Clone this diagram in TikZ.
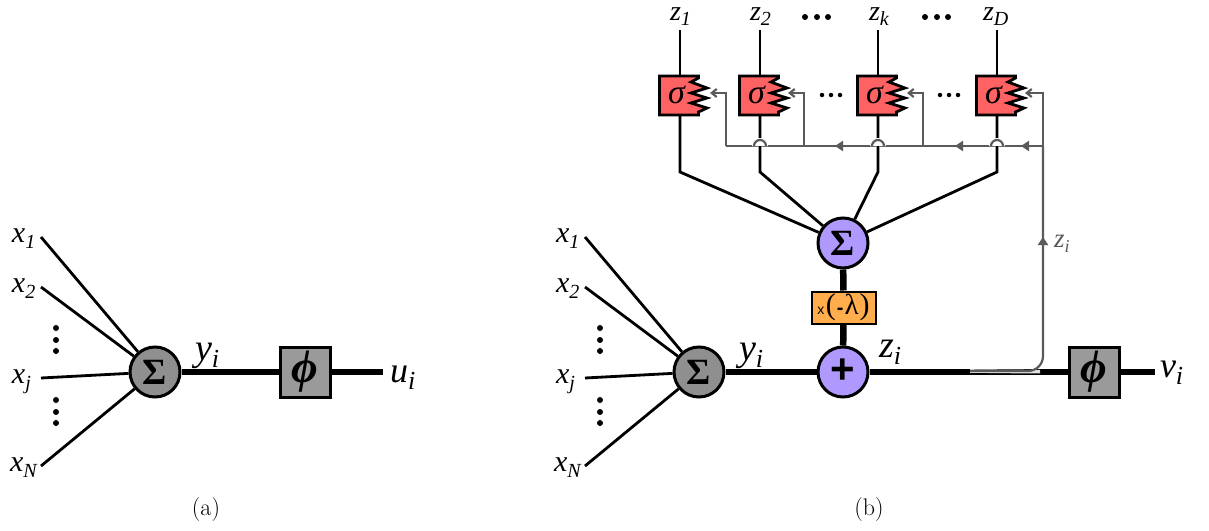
\documentclass[tikz,border=0pt]{standalone}
\usepackage{fontspec}
\setmainfont{Liberation Serif}
\newfontfamily\cmfont{Latin Modern Roman}
\newfontfamily\sansf{Liberation Sans}
\usetikzlibrary{arrows.meta}
\definecolor{fbgray}{HTML}{5A5A5A}
\definecolor{sumgray}{HTML}{8F8F8F}
\definecolor{sumpurple}{HTML}{AF99FF}
\definecolor{sigred}{HTML}{FF6262}
\definecolor{lamorange}{HTML}{FFAD4D}
\newcommand\lab[4]{\fontsize{#1}{#1}\selectfont\itshape #3\raisebox{-0.2em}{\fontsize{#2}{#2}\selectfont #4}}
\newcommand\sigbox[2]{%
  \path[fill=sigred,draw=black,line width=2.8pt,miter limit=10]
    (#2-20.5,76) -- (#2+18.5,76) -- (#2+18.5,78) -- (#2+11,82) -- (#2+27,88) -- (#2+11,93) -- (#2+27,98) -- (#2+11,103) -- (#2+27,108) -- (#2+18.5,112) -- (#2+18.5,115) -- (#2-20.5,115) -- cycle;
  \node[sigtext] (#1) at (#2-3.5,95) {\fontsize{34}{34}\selectfont\itshape σ};
}
\newcommand\hump[1]{%
  \fill[white] (#1+8,146) arc (0:180:8pt) -- cycle;
  \draw[fbline] (#1+6,146) arc (0:180:6pt);
}
\tikzset{
  x=1pt,y=-1pt,
  thinl/.style={line width=2.8pt,black},
  thickl/.style={line width=6.5pt,black},
  fbline/.style={line width=2.2pt,fbgray},
  fbarrow/.style={fbline,-{Straight Barb[length=5pt,width=8pt]}},
  midtip/.style={fbline,-{Triangle[length=8pt,width=10pt]}},
  sumnode/.style={circle,draw=black,line width=3pt,minimum size=50pt,inner sep=0pt,font=\fontsize{37}{37}\selectfont\bfseries},
  graysum/.style={sumnode,fill=sumgray},
  purplesum/.style={sumnode,fill=sumpurple},
  phibox/.style={rectangle,draw=black,line width=3pt,fill=sumgray!90!white,minimum size=50pt,inner sep=0pt,font=\fontsize{46}{46}\selectfont\itshape\bfseries},
  sigtext/.style={rectangle,minimum size=32pt,inner sep=0pt},
  lamnode/.style={rectangle,draw=black,line width=2pt,fill=lamorange,minimum width=64pt,minimum height=32pt,inner sep=0pt},
  lbl/.style={anchor=base west,inner sep=0pt,outer sep=0pt},
  dotbig/.style={circle,fill=black,minimum size=6.5pt,inner sep=0pt},
  dotsmall/.style={circle,fill=black,minimum size=4.5pt,inner sep=0pt},
  captext/.style={inner sep=0pt,font=\cmfont\fontsize{24}{24}\selectfont},
}
\begin{document}
\begin{tikzpicture}
\useasboundingbox (0,0) rectangle (1209,530);
% free ends
\foreach \n/\ox in {a/0,b/544}{
  \coordinate (\n x1) at (41+\ox,237);
  \coordinate (\n x2) at (41+\ox,287);
  \coordinate (\n xj) at (41+\ox,378);
  \coordinate (\n xN) at (41+\ox,466);
}
\coordinate (aout) at (383,372);
\coordinate (bout) at (1155,372);
% nodes of (a)
\node[graysum] (asum) at (155,372) {Σ};
\node[phibox] (aphi) at (305,372) {ϕ};
\foreach \s in {1,2,j,N} \draw[thinl] (ax\s) -- (asum);
\draw[thickl] (asum) -- (aphi);
\draw[thickl] (aphi) -- (aout);
% nodes of (b)
\node[graysum] (bsum) at (699,372) {Σ};
\node[purplesum] (plus) at (843,372) {\sansf\bfseries\fontsize{42}{42}\selectfont\raisebox{1pt}{+}};
\node[purplesum] (topsum) at (843,243) {Σ};
\node[lamnode] (lam) at (843.5,307.5) {{\sansf\fontsize{14}{14}\selectfont x}\hspace{1.5pt}{\fontsize{30}{30}\selectfont(}\hspace{1pt}{\sansf\bfseries\fontsize{20}{20}\selectfont -}\hspace{1pt}{\fontsize{29}{29}\selectfont λ}\hspace{1pt}{\fontsize{30}{30}\selectfont)}};
\node[phibox] (bphi) at (1094,372) {ϕ};
\foreach \s in {1,2,j,N} \draw[thinl] (bx\s) -- (bsum);
\draw[thickl] (bsum) -- (plus);
\draw[thickl] (plus) -- (bphi);
\draw[thickl] (bphi) -- (bout);
\draw[thickl] (topsum) -- (lam);
\draw[thickl] (lam) -- (plus);
% feedback pick-off
\coordinate (fbs) at (970,371);
\coordinate (fbc) at (1043,371);
\coordinate (fbr) at (1043,146);
\draw[line width=3.6pt,black!12,rounded corners=15pt] (fbs) -- (1025,371.6) -- (1033,371.6);
\draw[fbline,rounded corners=15pt] (fbs) -- (fbc) -- (fbr);
\draw[midtip] (1043,250) -- (1043,237);
% sigma boxes
\foreach \n/\c in {s1/680,s2/760,sk/878,sD/997}{
  \coordinate (\n top) at (\c,30);
  \coordinate (\n bend) at (\c,172);
  \draw[thinl] (\n top) -- (\c,80);
  \draw[thinl] (\c,113) -- (\n bend) -- (topsum);
  \sigbox{\n}{\c}
}
% feedback bus
\coordinate (bus0) at (726,146);
\coordinate (busE) at (1043,146);
\draw[fbline] (busE) -- (bus0);
\draw[fbarrow] (bus0) -- (726,93) -- (710,93);
\draw[fbarrow] (804,146) -- (804,93) -- (788,93);
\draw[fbarrow] (923,146) -- (923,93) -- (907,93);
\draw[fbarrow] (busE) -- (1043,93) -- (1025,93);
\hump{760}\hump{878}\hump{997}
\draw[thinl] (760,145.5) -- (760,147);
\draw[thinl] (878,145.5) -- (878,147);
\draw[thinl] (997,145.5) -- (997,147);
\draw[midtip] (1034,146) -- (1021,146);
\draw[midtip] (968,146) -- (955,146);
\draw[midtip] (848,146) -- (835,146);
% dots
\foreach \x/\y [count=\i] in {56/328,56/340,56/351,56/400,56/412,56/423,600/328,600/340,600/351,600/400,600/412,600/423,805/17,817/17,828/17,925/17,937/17,948/17}
  \node[dotbig,minimum size=6pt] (d\i) at (\x,\y) {};
\foreach \x [count=\i] in {822,831,840,940,949,958}
  \node[dotsmall] (e\i) at (\x,95) {};
% labels
\foreach \ox/\n in {0/l,544/r}{
  \node[lbl] (\n x1l) at (12+\ox,242) {\lab{30}{20}{x}{1}};
  \node[lbl] (\n x2l) at (12+\ox,292) {\lab{30}{20}{x}{2}};
  \node[lbl] (\n xjl) at (12+\ox,383) {\lab{30}{20}{x}{j}};
  \node[lbl] (\n xNl) at (10+\ox,471) {\lab{30}{20}{x}{N}};
  \node[lbl] (\n yl) at (195+\ox,360) {\lab{38}{26}{y}{i}};
}
\node[lbl] (ul) at (390,382) {\lab{36}{26}{u}{i}};
\node[lbl] (vl) at (1160,377) {\lab{36}{26}{v}{i}};
\node[lbl] (zl) at (879,357) {\lab{38}{26}{z}{i}};
\node[lbl,text=fbgray] (zg) at (1054,247) {\lab{27}{18}{z}{i}};
\node[lbl] (t1) at (670,20) {\lab{28}{20}{z}{1}};
\node[lbl] (t2) at (750,20) {\lab{28}{20}{z}{2}};
\node[lbl] (t3) at (869,20) {\lab{28}{20}{z}{k}};
\node[lbl] (t4) at (983,20) {\lab{28}{20}{z}{D}};
\node[captext] (capa) at (206,510) {(a)};
\node[captext] (capb) at (869,510) {(b)};
\end{tikzpicture}
\end{document}
